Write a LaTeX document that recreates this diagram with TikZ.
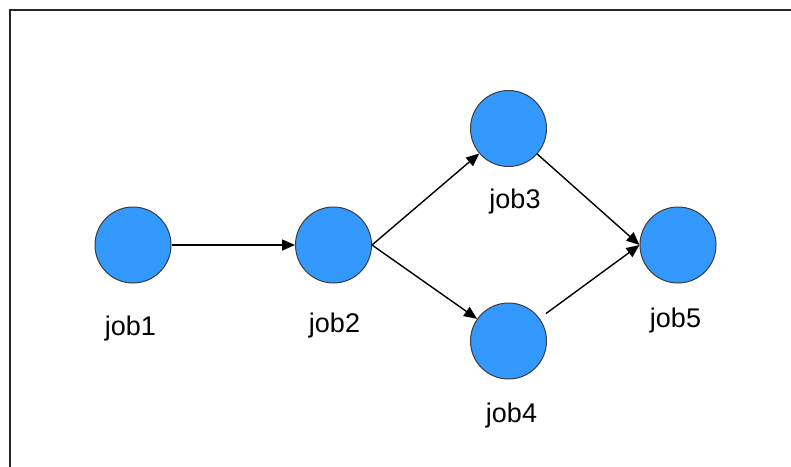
\documentclass[tikz,border=0pt]{standalone}
\usepackage{fontspec}
\setmainfont{Liberation Sans}
\usetikzlibrary{arrows.meta}
\definecolor{jobblue}{RGB}{51,153,255}
\definecolor{jobedge}{RGB}{60,60,60}
\tikzset{
  job/.style={circle, fill=jobblue, draw=jobedge, line width=1pt, minimum size=76pt, inner sep=0pt},
  lbl/.style={anchor=base, font=\fontsize{27}{30}\selectfont, text=black, inner sep=0pt},
  conn/.style={draw=black, line width=1.4pt, -{Triangle[length=13pt,width=11pt]}}
}
\begin{document}
\begin{tikzpicture}[x=1pt,y=-1pt]
\useasboundingbox (0,0) rectangle (791,466);
\draw[line width=2.2pt, draw=black!85] (10,467) -- (10,10) -- (792,10);
\node[job] (j1) at (133,245) {};
\node[job] (j2) at (333.5,245) {};
\node[job] (j3) at (508.5,128.5) {};
\node[job] (j4) at (508.5,341) {};
\node[job] (j5) at (678,245) {};
\node[lbl] (l1) at (130.5,335) {job1};
\node[lbl] (l2) at (334.5,332) {job2};
\node[lbl] (l3) at (515,208) {job3};
\node[lbl] (l4) at (511.5,422) {job4};
\node[lbl] (l5) at (675.5,327) {job5};
\draw[conn] (j1) -- (j2);
\draw[conn] (j2.east) -- (j3);
\draw[conn] (j2.east) -- (j4);
\draw[conn] (j3) -- (j5.west);
\draw[conn, shorten <=8pt] (j4) -- (j5.west);
\end{tikzpicture}
\end{document}
